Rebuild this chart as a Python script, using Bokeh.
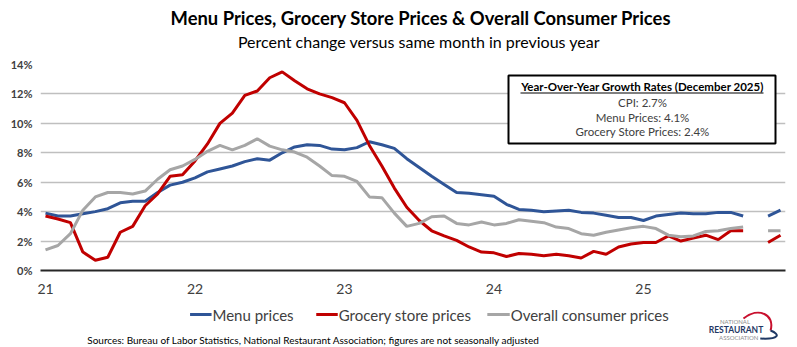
from bokeh.plotting import figure
from bokeh.models import FixedTicker, Range1d
from bokeh.layouts import column
from bokeh.core.properties import value
from bokeh.embed import file_html
from bokeh.resources import INLINE

NaN = float("nan")

# ---------------- data ----------------
year_labels = ["21", "22", "23", "24", "25"]
months = list(range(60))  # Jan 2021 .. Dec 2025

menu_prices = [
    3.9, 3.7, 3.7, 3.85, 4.0, 4.2, 4.6, 4.7, 4.7, 5.3, 5.8, 6.0,
    6.3, 6.7, 6.9, 7.1, 7.4, 7.6, 7.5, 8.0, 8.4, 8.55, 8.5, 8.25,
    8.2, 8.35, 8.75, 8.55, 8.3, 7.6, 7.0, 6.4, 5.85, 5.3, 5.25, 5.15,
    5.05, 4.5, 4.15, 4.1, 4.0, 4.05, 4.1, 3.95, 3.9, 3.75, 3.6, 3.6,
    3.4, 3.7, 3.8, 3.9, 3.85, 3.85, 3.95, 3.95, 3.7, NaN, 3.7, 4.1,
]
grocery_prices = [
    3.7, 3.5, 3.25, 1.25, 0.7, 0.9, 2.6, 3.0, 4.4, 5.2, 6.4, 6.5,
    7.45, 8.6, 10.0, 10.7, 11.9, 12.2, 13.1, 13.5, 12.9, 12.35, 12.0, 11.75,
    11.4, 10.2, 8.5, 7.1, 5.6, 4.3, 3.4, 2.7, 2.35, 2.05, 1.6, 1.25,
    1.2, 0.95, 1.15, 1.1, 1.0, 1.1, 1.0, 0.85, 1.3, 1.1, 1.6, 1.8,
    1.9, 1.9, 2.35, 2.0, 2.2, 2.4, 2.1, 2.7, 2.7, NaN, 1.9, 2.4,
]
overall_cpi = [
    1.4, 1.7, 2.5, 4.1, 5.0, 5.3, 5.3, 5.2, 5.4, 6.2, 6.85, 7.1,
    7.55, 8.1, 8.5, 8.2, 8.5, 8.95, 8.45, 8.2, 8.05, 7.7, 7.1, 6.45,
    6.4, 6.05, 5.0, 4.95, 3.9, 3.0, 3.2, 3.65, 3.7, 3.2, 3.1, 3.3,
    3.1, 3.2, 3.45, 3.35, 3.25, 2.95, 2.85, 2.5, 2.4, 2.6, 2.75, 2.9,
    3.0, 2.85, 2.4, 2.3, 2.35, 2.65, 2.7, 2.85, 2.95, NaN, 2.7, 2.7,
]
series_names = ["Menu prices", "Grocery store prices", "Overall consumer prices"]
title_text = "Menu Prices, Grocery Store Prices & Overall Consumer Prices"
subtitle_text = "Percent change versus same month in previous year"
box_title = "Year-Over-Year Growth Rates (December 2025)"
box_lines = ["CPI: 2.7%", "Menu Prices: 4.1%", "Grocery Store Prices: 2.4%"]
source_text = ("Sources: Bureau of Labor Statistics, National Restaurant Association; "
               "figures are not seasonally adjusted")
logo_words = ["NATIONAL", "RESTAURANT", "ASSOCIATION"]

# ---------------- geometry ----------------
W = 797
TOP_H, MAIN_H, BOT_H = 52, 248, 47
FL, FR = 40, 785           # frame left/right (px)
FT, FB = 64, 270           # frame top/bottom (page px)
X0, DX = 45.0, 12.458      # month-0 pixel, px per month
DY = (FB - FT) / 14.0

FONT = "Lato"
BLUE, RED, GREY = "#2F5597", "#C00000", "#A6A6A6"
TXT = "#404040"


def xd(px):
    return (px - X0) / DX


def yd(py):
    return (FB - py) / DY


def blank(height):
    f = figure(width=W, height=height, output_backend="svg", toolbar_location=None,
               x_range=Range1d(0, W), y_range=Range1d(height, 0),
               x_axis_location=None, y_axis_location=None,
               min_border=0, min_border_left=0, min_border_right=0,
               min_border_top=0, min_border_bottom=0)
    f.outline_line_color = None
    f.grid.visible = False
    f.border_fill_color = "white"
    f.background_fill_color = "white"
    return f


# ---------------- top (titles) ----------------
top = blank(TOP_H)
top.text(x=[407], y=[17], text=[title_text], text_align="center", text_baseline="middle",
         text_font=value(FONT), text_font_style="bold", text_font_size="18.4px",
         text_color="black")
top.text(x=[405], y=[41], text=[subtitle_text], text_align="center", text_baseline="middle",
         text_font=value(FONT), text_font_size="16px", text_color="black")

# ---------------- main chart ----------------
p = figure(width=W, height=MAIN_H, output_backend="svg", toolbar_location=None,
           x_range=Range1d(xd(FL), xd(FR)), y_range=Range1d(0, 14),
           min_border_left=FL, min_border_right=W - FR,
           min_border_top=FT - TOP_H, min_border_bottom=TOP_H + MAIN_H - FB)
p.outline_line_color = None
p.background_fill_color = "white"
p.border_fill_color = "white"

p.yaxis.ticker = FixedTicker(ticks=[0, 2, 4, 6, 8, 10, 12, 14])
p.yaxis.major_label_overrides = {v: f"{v}%" for v in [0, 2, 4, 6, 8, 10, 12, 14]}
p.yaxis.axis_line_color = None
p.yaxis.major_tick_line_color = None
p.yaxis.minor_tick_line_color = None
p.yaxis.major_label_text_font = FONT
p.yaxis.major_label_text_font_style = "bold"
p.yaxis.major_label_text_font_size = "11px"
p.yaxis.major_label_text_color = TXT
p.yaxis.major_label_standoff = 2

p.xaxis.ticker = FixedTicker(ticks=[0, 12, 24, 36, 48])
p.xaxis.major_label_overrides = {i * 12: lab for i, lab in enumerate(year_labels)}
p.xaxis.axis_line_color = "#262626"
p.xaxis.axis_line_width = 2
p.xaxis.major_tick_line_color = None
p.xaxis.minor_tick_line_color = None
p.xaxis.major_label_text_font = FONT
p.xaxis.major_label_text_font_size = "14px"
p.xaxis.major_label_text_color = TXT
p.xaxis.major_label_standoff = 7

p.xgrid.grid_line_color = None
p.ygrid.grid_line_color = "#BFBFBF"
p.ygrid.grid_line_width = 1.5

p.line(months, menu_prices, line_color=BLUE, line_width=3)
p.line(months, grocery_prices, line_color=RED, line_width=3)
p.line(months, overall_cpi, line_color=GREY, line_width=3)

# annotation box
p.quad(left=[xd(508)], right=[xd(775)], bottom=[yd(143)], top=[yd(75)],
       fill_color="white", line_color="black", line_width=2)
p.segment(x0=[xd(520)], x1=[xd(763)], y0=[yd(92.5)], y1=[yd(92.5)],
          line_color="black", line_width=1)
cx = xd(642)
p.text(x=[cx], y=[yd(86)], text=[box_title], text_align="center", text_baseline="middle",
       text_font=value(FONT), text_font_style="bold", text_font_size="11.5px",
       text_color="black")
p.text(x=[cx, cx, cx], y=[yd(102), yd(117), yd(131)], text=box_lines,
       text_align="center", text_baseline="middle", text_font=value(FONT),
       text_font_size="11.5px", text_color=TXT)

# ---------------- bottom (legend, source, logo) ----------------
bot = blank(BOT_H)
OY = TOP_H + MAIN_H  # page y of the bottom strip
ly = 314 - OY
bot.segment(x0=[160, 295, 478], x1=[183, 318, 502], y0=[ly] * 3, y1=[ly] * 3,
            line_color=[BLUE, RED, GREY], line_width=3)
bot.text(x=[184, 319, 503], y=[ly] * 3, text=series_names, text_align="left",
         text_baseline="middle", text_font=value(FONT), text_font_size="15px",
         text_color=TXT)
bot.text(x=[50], y=[339 - OY], text=[source_text], text_align="left",
         text_baseline="middle", text_font=value(FONT), text_font_size="10px",
         text_color="black")
# logo
bot.bezier(x0=[752], y0=[318 - OY], x1=[781], y1=[330 - OY],
           cx0=[768], cy0=[306 - OY], cx1=[786], cy1=[314 - OY],
           line_color="#C8102E", line_width=2)
bot.bezier(x0=[781], y0=[330 - OY], x1=[770], y1=[338 - OY],
           cx0=[792], cy0=[334 - OY], cx1=[790], cy1=[339 - OY],
           line_color="#1F3864", line_width=2)
bot.text(x=[743, 744, 747], y=[321 - OY, 329 - OY, 337 - OY], text=logo_words,
         text_align="center", text_baseline="middle", text_font=value(FONT),
         text_font_style=["normal", "bold", "normal"],
         text_font_size=["6px", "8.5px", "6px"],
         text_color=["#8C8C8C", "#1F3864", "#8C8C8C"])

layout = column(top, p, bot, spacing=0)
open("out.html", "w").write(file_html(layout, INLINE))
